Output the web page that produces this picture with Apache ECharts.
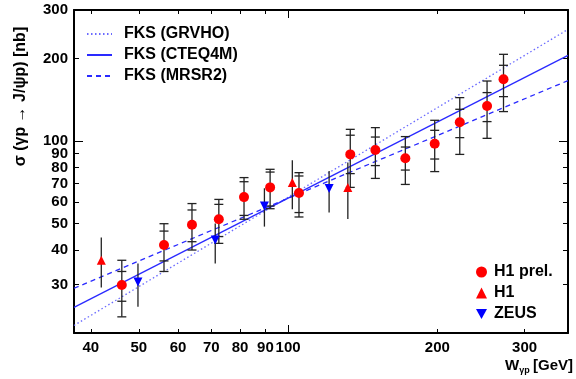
<!DOCTYPE html>
<html><head><meta charset="utf-8">
<script src="https://cdn.jsdelivr.net/npm/echarts@6/dist/echarts.min.js"></script>
<style>html,body{margin:0;padding:0;background:#fff}#c{width:576px;height:379px}</style>
</head><body><div id="c"></div>
<script>
// ---- data ----
const h1prelW      = [46.2, 56.2, 64.0, 72.5, 81.5, 92.0, 105.2, 133.5, 150, 172.4, 197.6, 222, 252, 272];
const h1prelSigma  = [29.9, 41.8, 49.6, 51.9, 62.5, 67.8, 64.7, 89.4, 92.7, 86.5, 97.8, 117, 134.1, 167.8];
const h1prelStatLo = [26.1, 36.6, 43.0, 44.9, 53.6, 58.0, 54.9, 76.1, 81.4, 78.4, 86.0, 102.9, 117.7, 145.1];
const h1prelStatHi = [33.5, 47.0, 56.1, 58.8, 71.1, 77.1, 74.6, 105, 103.4, 95.1, 109.4, 130.5, 150.1, 188.7];
const h1prelTotLo  = [22.9, 33.5, 40.1, 42.4, 51.9, 56.7, 52.9, 67.8, 73.1, 69.5, 77.4, 89.4, 102.3, 128];
const h1prelTotHi  = [36.8, 50.0, 59.2, 61.3, 73.6, 78.9, 76.7, 110.3, 111.9, 103.8, 119, 143.9, 165.4, 206.9];

const h1W     = [42.0, 102, 132];
const h1Sigma = [36.8, 70.6, 67.8];
const h1Lo    = [29.3, 56.4, 52.0];
const h1Hi    = [44.5, 85.1, 83.5];

const zeusW     = [49.8, 71.3, 89.6, 121];
const zeusSigma = [30.7, 43.6, 58.0, 67.1];
const zeusLo    = [24.9, 35.8, 48.8, 54.9];
const zeusHi    = [35.8, 50.1, 67.3, 77.8];

const curveW       = [37, 367];
const grvhoSigma   = [21.3, 255];
const cteq4mSigma  = [24.8, 205];
const mrsr2Sigma   = [29.1, 166];

const xTickLabels = [40, 50, 60, 70, 80, 90, 100, 200, 300];
const xMinorTicks = [40, 50, 60, 70, 80, 90, 200, 300];
const xMajorTicks = [100];
const yTickLabels = [30, 40, 50, 60, 70, 80, 90, 100, 200, 300];
const yMinorTicks = [30, 40, 50, 60, 70, 80, 90, 200];
const yMajorTicks = [100];

// ---- chart ----
const FONT = 'Liberation Sans';
const X_MIN = 37, X_MAX = 367, Y_MIN = 20, Y_MAX = 300;

function pair(a, b) { return a.map((v, i) => [v, b[i]]); }
function errData(w, s, sl, sh, tl, th) { return w.map((v, i) => [v, s[i], sl[i], sh[i], tl[i], th[i]]); }

function makeErr(withCaps) {
  return function (params, api) {
    const x = api.value(0);
    const sLo = api.value(2), sHi = api.value(3), tLo = api.value(4), tHi = api.value(5);
    const pT = api.coord([x, tHi]), pB = api.coord([x, tLo]);
    const st = { stroke: '#222', lineWidth: 1.3 };
    const ch = [{ type: 'line', shape: { x1: pT[0], y1: pT[1], x2: pB[0], y2: pB[1] }, style: st }];
    if (withCaps) {
      const hw = 4.5;
      [pT, pB, api.coord([x, sLo]), api.coord([x, sHi])].forEach(p => {
        ch.push({ type: 'line', shape: { x1: p[0] - hw, y1: p[1], x2: p[0] + hw, y2: p[1] }, style: st });
      });
    }
    return { type: 'group', children: ch };
  };
}

function xAx(position, ticks, len, showLine, showLabel, extra) {
  return Object.assign({
    type: 'log', logBase: 10, min: X_MIN, max: X_MAX, position: position, gridIndex: 0,
    axisLine: { show: showLine, lineStyle: { color: '#000', width: 2 } },
    axisTick: { show: true, inside: true, length: len, customValues: ticks, lineStyle: { color: '#000', width: 1 } },
    axisLabel: { show: showLabel, customValues: xTickLabels, margin: 7, formatter: v => String(Math.round(v)),
      fontFamily: FONT, fontWeight: 'bold', fontSize: 15, color: '#000' },
    splitLine: { show: false }, minorTick: { show: false }
  }, extra || {});
}
function yAx(position, ticks, len, showLine, showLabel, extra) {
  return Object.assign({
    type: 'log', logBase: 10, min: Y_MIN, max: Y_MAX, position: position, gridIndex: 0,
    axisLine: { show: showLine, lineStyle: { color: '#000', width: 2 } },
    axisTick: { show: true, inside: true, length: len, customValues: ticks, lineStyle: { color: '#000', width: 1 } },
    axisLabel: { show: showLabel, customValues: yTickLabels, margin: 6, formatter: v => String(Math.round(v)),
      fontFamily: FONT, fontWeight: 'bold', fontSize: 15, color: '#000' },
    splitLine: { show: false }, minorTick: { show: false }
  }, extra || {});
}

const chart = echarts.init(document.getElementById('c'), null, { renderer: 'canvas' });
chart.setOption({
  animation: false,
  backgroundColor: '#fff',
  grid: { left: 74, right: 8, top: 10, bottom: 46, containLabel: false },
  xAxis: [
    xAx('bottom', xMinorTicks, 4, true, true, {
      name: '{w|W}{s|γp} {w|[GeV]}', nameLocation: 'end', nameGap: 5,
      nameTextStyle: { align: 'right', verticalAlign: 'top', padding: [24, 0, 0, 0],
        rich: { w: { fontFamily: FONT, fontWeight: 'bold', fontSize: 15, color: '#000', lineHeight: 18, verticalAlign: 'middle' },
                s: { fontFamily: FONT, fontWeight: 'bold', fontSize: 9, color: '#000', lineHeight: 18, verticalAlign: 'bottom', padding: [8, 0, 0, 0] } } }
    }),
    xAx('bottom', xMajorTicks, 8, false, false),
    xAx('top', xMinorTicks, 4, true, false),
    xAx('top', xMajorTicks, 8, false, false)
  ],
  yAxis: [
    yAx('left', yMinorTicks, 5, true, true, {
      name: 'σ (γp → J/ψp) [nb]', nameLocation: 'middle', nameRotate: 90, nameGap: 45,
      nameTextStyle: { fontFamily: FONT, fontWeight: 'bold', fontSize: 16, color: '#000', padding: [0, 0, 0, 150] }
    }),
    yAx('left', yMajorTicks, 9, false, false),
    yAx('right', yMinorTicks, 5, true, false),
    yAx('right', yMajorTicks, 9, false, false)
  ],
  legend: [
    {
      data: ['FKS (GRVHO)', 'FKS (CTEQ4M)', 'FKS (MRSR2)'],
      orient: 'vertical', left: 81, top: 21, itemWidth: 25, itemHeight: 14, itemGap: 5,
      itemStyle: { opacity: 0 },
      textStyle: { fontFamily: FONT, fontWeight: 'bold', fontSize: 16, color: '#000', lineHeight: 16, padding: [0, 0, 0, 7] },
      selectedMode: false
    },
    {
      data: ['H1 prel.', 'H1', 'ZEUS'],
      orient: 'vertical', left: 471, top: 259, itemWidth: 11, itemHeight: 11, itemGap: 5,
      textStyle: { fontFamily: FONT, fontWeight: 'bold', fontSize: 16, color: '#000', lineHeight: 16, padding: [0, 0, 0, 2] },
      selectedMode: false
    }
  ],
  series: [
    { name: 'FKS (GRVHO)', type: 'line', data: pair(curveW, grvhoSigma), symbol: 'none', silent: true,
      lineStyle: { color: '#6a6aff', width: 1.3, type: [1.5, 2.5] }, itemStyle: { color: '#6a6aff' }, z: 3 },
    { name: 'FKS (CTEQ4M)', type: 'line', data: pair(curveW, cteq4mSigma), symbol: 'none', silent: true,
      lineStyle: { color: '#2a2aff', width: 1.3, type: 'solid' }, itemStyle: { color: '#2a2aff' }, z: 3 },
    { name: 'FKS (MRSR2)', type: 'line', data: pair(curveW, mrsr2Sigma), symbol: 'none', silent: true,
      lineStyle: { color: '#2a2aff', width: 1.3, type: [5, 4] }, itemStyle: { color: '#2a2aff' }, z: 3 },

    { name: 'errH1prel', type: 'custom', renderItem: makeErr(true), silent: true, z: 4,
      data: errData(h1prelW, h1prelSigma, h1prelStatLo, h1prelStatHi, h1prelTotLo, h1prelTotHi),
      encode: { x: 0, y: [1, 2, 3, 4, 5] } },
    { name: 'errH1', type: 'custom', renderItem: makeErr(false), silent: true, z: 4,
      data: errData(h1W, h1Sigma, h1Lo, h1Hi, h1Lo, h1Hi), encode: { x: 0, y: [1, 2, 3, 4, 5] } },
    { name: 'errZEUS', type: 'custom', renderItem: makeErr(false), silent: true, z: 4,
      data: errData(zeusW, zeusSigma, zeusLo, zeusHi, zeusLo, zeusHi), encode: { x: 0, y: [1, 2, 3, 4, 5] } },

    { name: 'H1 prel.', type: 'scatter', data: pair(h1prelW, h1prelSigma), symbol: 'circle', symbolSize: 10,
      itemStyle: { color: '#ff0000', opacity: 1 }, z: 5 },
    { name: 'H1', type: 'scatter', data: pair(h1W, h1Sigma), symbol: 'triangle', symbolSize: 9,
      itemStyle: { color: '#ff0000', opacity: 1 }, z: 5 },
    { name: 'ZEUS', type: 'scatter', data: pair(zeusW, zeusSigma), symbol: 'path://M0,0L10,0L5,9Z', symbolSize: 9,
      itemStyle: { color: '#0000ff', opacity: 1 }, z: 5 }
  ]
});
</script>
</body></html>
